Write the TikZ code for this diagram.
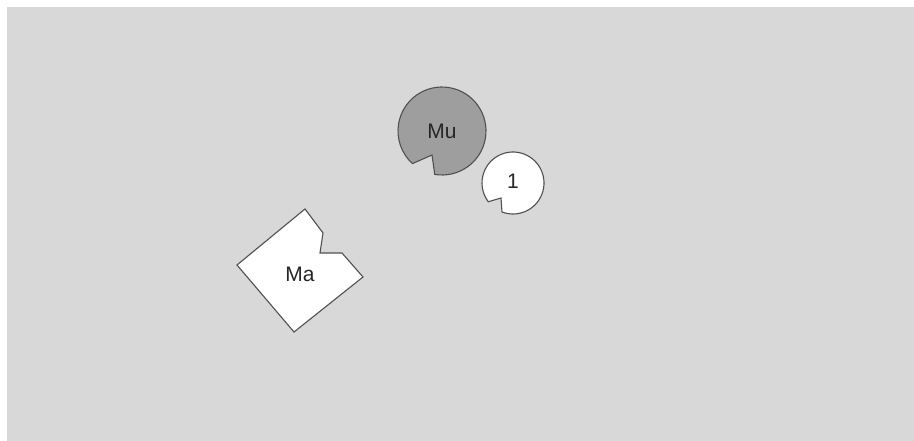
\documentclass[tikz,border=0pt]{standalone}
\usepackage{fontspec}
\setmainfont{Liberation Sans}
\definecolor{bg}{HTML}{D8D8D8}
\definecolor{mufill}{HTML}{9E9E9E}
\definecolor{edge}{HTML}{505050}
\tikzset{
  piece/.style={draw=edge, line width=1.1pt, line join=miter},
  lbl/.style={font=\fontsize{21}{24}\selectfont, text=black!85, inner sep=0pt}
}
\begin{document}
\begin{tikzpicture}[x=1pt,y=-1pt]
\useasboundingbox (0,0) rectangle (914,441);
\fill[white] (0,0) rectangle (914,441);
\fill[bg] (7,7) rectangle (914,441);
% Mu disc with notch
\coordinate (mc) at (442,131);
\draw[piece, fill=mufill] (mc) ++(99.5:44) arc[start angle=99.5, end angle=-227.8, radius=44] -- (432,155) -- cycle;
\node[lbl] (mu) at (mc) {Mu};
% 1 disc with notch
\coordinate (oc) at (513,183);
\draw[piece, fill=white] (oc) ++(110.8:31) arc[start angle=110.8, end angle=-217.2, radius=31] -- (501,198) -- cycle;
\node[lbl] (one) at ([yshift=2]oc) {1};
% Ma square with notch
\draw[piece, fill=white] (305,209) -- (323,233) -- (320,253) -- (342,253) -- (363,277) -- (294,332) -- (237,265) -- cycle;
\node[lbl] (ma) at (300,274) {Ma};
\end{tikzpicture}
\end{document}
